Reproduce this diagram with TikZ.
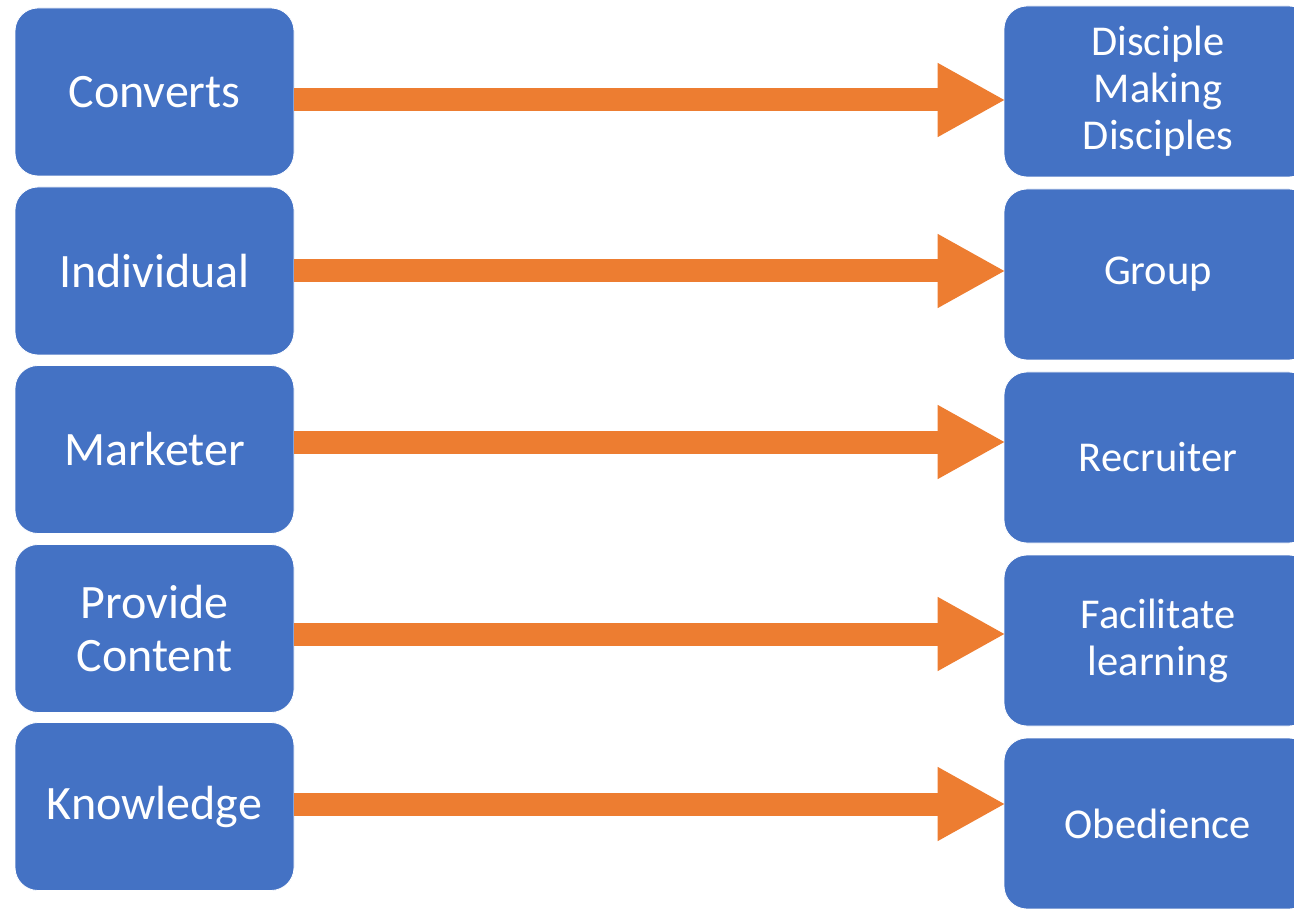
\documentclass[tikz,border=0pt]{standalone}
\usepackage{fontspec}
\setmainfont{Carlito}
\usetikzlibrary{arrows.meta}
\definecolor{boxblue}{HTML}{4472C4}
\definecolor{arrorange}{HTML}{ED7D31}
\begin{document}
\begin{tikzpicture}[x=1pt,y=-1pt,
  leftbox/.style={draw=white, line width=0.8pt, fill=boxblue, rounded corners=23pt,
    minimum width=279pt, minimum height=168pt, inner sep=0pt, text=white,
    align=center, font=\fontsize{48}{53}\selectfont},
  rightbox/.style={draw=white, line width=0.8pt, fill=boxblue, rounded corners=23pt,
    minimum width=308pt, minimum height=171pt, inner sep=0pt, text=white,
    align=center, font=\fontsize{42.5}{47}\selectfont},
  bigarrow/.style={arrorange, line width=23pt,
    -{Triangle[length=68pt,width=69pt]}}]
\useasboundingbox (0,0) rectangle (1294,909);
\node[leftbox] (l1) at (154.5,92) {Converts};
\node[leftbox] (l2) at (154.5,271) {Individual};
\node[leftbox] (l3) at (154.5,449.5) {Marketer};
\node[leftbox] (l4) at (154.5,628.5) {Provide\\Content};
\node[leftbox] (l5) at (154.5,806.5) {Knowledge};
\begin{scope}
\clip (0,0) rectangle (1294,909);
\node[rightbox] (r1) at (1158,91.5) {Disciple\\Making\\Disciples};
\node[rightbox] (r2) at (1158,274.5) {Group};
\node[rightbox] (r3) at (1158,457.5) {Recruiter};
\node[rightbox] (r4) at (1158,640.5) {Facilitate\\learning};
\node[rightbox] (r5) at (1158,823.5) {Obedience};
\end{scope}
\coordinate (a1) at (0,100);
\coordinate (a2) at (0,271);
\coordinate (a3) at (0,442);
\coordinate (a4) at (0,634);
\coordinate (a5) at (0,804);
\draw[bigarrow] (l1.east |- a1) -- ([xshift=2pt]r1.west |- a1);
\draw[bigarrow] (l2.east |- a2) -- ([xshift=2pt]r2.west |- a2);
\draw[bigarrow] (l3.east |- a3) -- ([xshift=2pt]r3.west |- a3);
\draw[bigarrow] (l4.east |- a4) -- ([xshift=2pt]r4.west |- a4);
\draw[bigarrow] (l5.east |- a5) -- ([xshift=2pt]r5.west |- a5);
\end{tikzpicture}
\end{document}
